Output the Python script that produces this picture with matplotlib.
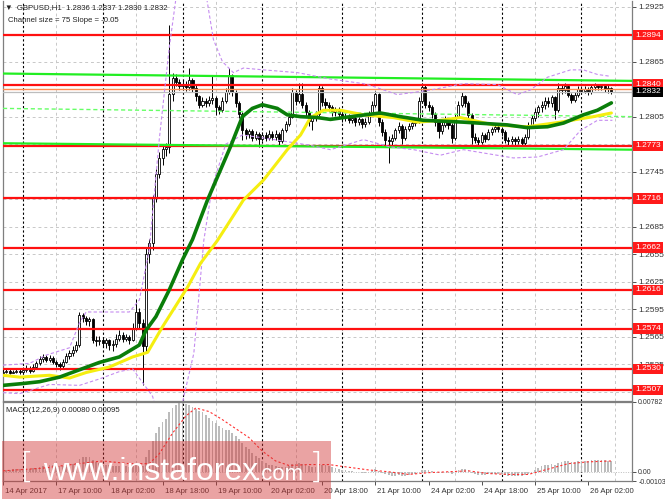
import matplotlib
matplotlib.use("Agg")
import matplotlib.pyplot as plt
from matplotlib.patches import Rectangle
from matplotlib.transforms import blended_transform_factory, ScaledTranslation

# GBPUSD H1, 14 Apr 18:00 .. 26 Apr 09:00 (bar index 0..183)
first_open = 1.2526
closes = [
    1.2527, 1.2528, 1.2526, 1.2527, 1.2528, 1.2527,
    # 17 Apr
    1.2529, 1.2531, 1.2528, 1.2532, 1.2536, 1.2541, 1.2543, 1.2540, 1.2542, 1.2538, 1.2535, 1.2533,
    1.2538, 1.2544, 1.2547, 1.2551, 1.2556, 1.2589, 1.2585, 1.2582, 1.2584, 1.2562, 1.2560, 1.2562,
    # 18 Apr
    1.2558, 1.2561, 1.2556, 1.2557, 1.2563, 1.2567, 1.2563, 1.2565, 1.2562, 1.2575, 1.2592, 1.2580,
    1.2555, 1.2655, 1.2667, 1.2716, 1.2743, 1.2760, 1.2770, 1.2772, 1.2830, 1.2847, 1.2843, 1.2838,
    # 19 Apr
    1.2841, 1.2837, 1.2845, 1.2836, 1.2827, 1.2818, 1.2822, 1.2820, 1.2823, 1.2825, 1.2815, 1.2812,
    1.2822, 1.2832, 1.2850, 1.2832, 1.2820, 1.2808, 1.2790, 1.2786, 1.2789, 1.2782, 1.2786, 1.2781,
    # 20 Apr
    1.2785, 1.2782, 1.2786, 1.2783, 1.2786, 1.2778, 1.2790, 1.2797, 1.2805, 1.2832, 1.2822, 1.2830,
    1.2818, 1.2810, 1.2800, 1.2803, 1.2808, 1.2836, 1.2821, 1.2818, 1.2815, 1.2810, 1.2813, 1.2808,
    # 21 Apr
    1.2803, 1.2806, 1.2801, 1.2804, 1.2799, 1.2802, 1.2797, 1.2799, 1.2808, 1.2818, 1.2830, 1.2799,
    1.2788, 1.2780, 1.2778, 1.2782, 1.2790, 1.2795, 1.2782, 1.2792, 1.2795, 1.2798, 1.2800, 1.2822,
    # 24 Apr
    1.2837, 1.2818, 1.2815, 1.2808, 1.2799, 1.2789, 1.2796, 1.2802, 1.2796, 1.2782, 1.2805, 1.2818,
    1.2827, 1.2820, 1.2807, 1.2783, 1.2780, 1.2777, 1.2785, 1.2781, 1.2788, 1.2791, 1.2794, 1.2792,
    # 25 Apr
    1.2788, 1.2780, 1.2778, 1.2781, 1.2778, 1.2781, 1.2776, 1.2783, 1.2796, 1.2803, 1.2810, 1.2815,
    1.2818, 1.2822, 1.2820, 1.2826, 1.2812, 1.2836, 1.2834, 1.2838, 1.2829, 1.2823, 1.2829, 1.2835,
    # 26 Apr
    1.2833, 1.2835, 1.2832, 1.2837, 1.2839, 1.2837, 1.2838, 1.2835, 1.2836, 1.2832,
]
highs = [
    1.2530, 1.2531, 1.2530, 1.2529, 1.2531, 1.2530,
    1.2532, 1.2534, 1.2533, 1.2535, 1.2539, 1.2544, 1.2546, 1.2545, 1.2545, 1.2544, 1.2540, 1.2538,
    1.2541, 1.2547, 1.2551, 1.2555, 1.2560, 1.2592, 1.2591, 1.2588, 1.2587, 1.2586, 1.2566, 1.2566,
    1.2565, 1.2564, 1.2563, 1.2561, 1.2568, 1.2572, 1.2570, 1.2568, 1.2567, 1.2580, 1.2606, 1.2596,
    1.2584, 1.2662, 1.2672, 1.2720, 1.2748, 1.2766, 1.2774, 1.2776, 1.2905, 1.2853, 1.2851, 1.2846,
    1.2845, 1.2844, 1.2858, 1.2847, 1.2839, 1.2829, 1.2826, 1.2825, 1.2827, 1.2850, 1.2827, 1.2818,
    1.2826, 1.2836, 1.2858, 1.2852, 1.2834, 1.2822, 1.2810, 1.2793, 1.2792, 1.2791, 1.2789, 1.2788,
    1.2788, 1.2788, 1.2790, 1.2789, 1.2790, 1.2788, 1.2793, 1.2800, 1.2809, 1.2836, 1.2834, 1.2842,
    1.2842, 1.2821, 1.2812, 1.2807, 1.2811, 1.2840, 1.2838, 1.2825, 1.2821, 1.2818, 1.2816, 1.2815,
    1.2810, 1.2809, 1.2808, 1.2807, 1.2806, 1.2805, 1.2804, 1.2803, 1.2811, 1.2822, 1.2833, 1.2831,
    1.2802, 1.2791, 1.2784, 1.2786, 1.2793, 1.2799, 1.2797, 1.2795, 1.2798, 1.2801, 1.2804, 1.2826,
    1.2842, 1.2839, 1.2822, 1.2818, 1.2810, 1.2801, 1.2799, 1.2806, 1.2804, 1.2798, 1.2808, 1.2822,
    1.2832, 1.2829, 1.2822, 1.2809, 1.2787, 1.2783, 1.2788, 1.2787, 1.2791, 1.2794, 1.2797, 1.2797,
    1.2794, 1.2790, 1.2783, 1.2784, 1.2783, 1.2784, 1.2783, 1.2786, 1.2799, 1.2807, 1.2814, 1.2818,
    1.2822, 1.2826, 1.2826, 1.2829, 1.2828, 1.2842, 1.2840, 1.2842, 1.2840, 1.2831, 1.2832, 1.2838,
    1.2838, 1.2838, 1.2837, 1.2840, 1.2842, 1.2841, 1.2841, 1.2840, 1.2839, 1.2837,
]
lows = [
    1.2524, 1.2525, 1.2524, 1.2525, 1.2525, 1.2524,
    1.2525, 1.2527, 1.2526, 1.2527, 1.2531, 1.2534, 1.2538, 1.2537, 1.2538, 1.2535, 1.2532, 1.2529,
    1.2531, 1.2536, 1.2541, 1.2544, 1.2548, 1.2554, 1.2581, 1.2578, 1.2577, 1.2558, 1.2555, 1.2556,
    1.2554, 1.2553, 1.2551, 1.2550, 1.2554, 1.2560, 1.2559, 1.2560, 1.2557, 1.2560, 1.2572, 1.2575,
    1.2512, 1.2548, 1.2645, 1.2660, 1.2712, 1.2738, 1.2752, 1.2762, 1.2765, 1.2822, 1.2838, 1.2834,
    1.2834, 1.2833, 1.2834, 1.2832, 1.2822, 1.2814, 1.2815, 1.2816, 1.2817, 1.2819, 1.2807, 1.2808,
    1.2810, 1.2820, 1.2830, 1.2828, 1.2816, 1.2803, 1.2780, 1.2781, 1.2782, 1.2778, 1.2779, 1.2772,
    1.2778, 1.2778, 1.2779, 1.2779, 1.2780, 1.2774, 1.2776, 1.2788, 1.2795, 1.2803, 1.2818, 1.2820,
    1.2814, 1.2806, 1.2795, 1.2790, 1.2800, 1.2806, 1.2817, 1.2813, 1.2811, 1.2806, 1.2806, 1.2804,
    1.2799, 1.2800, 1.2798, 1.2798, 1.2795, 1.2796, 1.2793, 1.2794, 1.2797, 1.2806, 1.2815, 1.2795,
    1.2784, 1.2772, 1.2754, 1.2774, 1.2779, 1.2787, 1.2775, 1.2780, 1.2789, 1.2792, 1.2795, 1.2798,
    1.2820, 1.2814, 1.2811, 1.2804, 1.2795, 1.2782, 1.2786, 1.2794, 1.2792, 1.2776, 1.2780, 1.2803,
    1.2815, 1.2816, 1.2803, 1.2775, 1.2776, 1.2773, 1.2775, 1.2777, 1.2779, 1.2785, 1.2788, 1.2788,
    1.2784, 1.2776, 1.2774, 1.2775, 1.2774, 1.2775, 1.2773, 1.2774, 1.2781, 1.2793, 1.2800, 1.2805,
    1.2810, 1.2813, 1.2815, 1.2816, 1.2802, 1.2810, 1.2830, 1.2831, 1.2826, 1.2820, 1.2821, 1.2826,
    1.2830, 1.2831, 1.2829, 1.2830, 1.2834, 1.2834, 1.2834, 1.2832, 1.2831, 1.2830,
]
opens = [first_open] + closes[:-1]

# moving averages (read at sample bars)
ma_green_idx = [0, 6, 11, 17, 23, 29, 35, 41, 43, 46, 50, 54, 57, 61.5, 68.4, 72, 75, 78, 82.5, 85.5,
                89.5, 94.6, 98.5, 102.4, 113.5, 119.5, 126.5, 138.5, 151.7, 157.7, 163.8, 168.6, 174.6, 178.8, 183]
ma_green_val = [1.2512, 1.2514, 1.2516, 1.2521, 1.2529, 1.2537, 1.2543, 1.2556, 1.2572, 1.2587, 1.2616,
                1.2649, 1.2671, 1.2714, 1.2772, 1.2805, 1.2814, 1.2818, 1.2814, 1.2807, 1.2805, 1.2804,
                1.2802, 1.2804, 1.2809, 1.2805, 1.2801, 1.2799, 1.2796, 1.2793, 1.2794, 1.2798, 1.2807,
                1.2812, 1.2820]
ma_yellow_idx = [0, 5, 14, 20, 25, 32, 39, 43.5, 48, 55.5, 59.4, 64.5, 72.3, 78.4, 85.5, 89.5, 92.5,
                 96.4, 101.5, 108.4, 117.4, 124.7, 131.6, 137.6, 147.5, 157.7, 167.7, 177.6, 183]
ma_yellow_val = [1.2523, 1.2521, 1.2523, 1.2520, 1.2526, 1.2532, 1.2543, 1.2548, 1.2576, 1.2619, 1.2645,
                 1.2670, 1.2714, 1.2736, 1.2769, 1.2785, 1.2804, 1.2812, 1.2812, 1.2807, 1.2804, 1.2799,
                 1.2801, 1.2804, 1.2796, 1.2794, 1.2799, 1.2805, 1.2809]

# Bollinger envelope
bb_up_idx = [0, 8, 13, 20, 23, 25, 38, 41, 44, 47, 50, 53, 58, 61, 63.3, 66, 69.3, 72.3, 78.4, 88.6,
             98.5, 108.4, 111.4, 118.6, 128.6, 138.5, 148.7, 154.7, 158.6, 163.8, 170.7, 174.6, 178.8, 182.7]
bb_up_val = [1.2534, 1.2536, 1.2545, 1.2553, 1.2580, 1.2592, 1.2592, 1.2605, 1.2660, 1.2780, 1.2880,
             1.2960, 1.3000, 1.2940, 1.2889, 1.2865, 1.2853, 1.2858, 1.2856, 1.2853, 1.2846, 1.2841,
             1.2838, 1.2829, 1.2834, 1.2841, 1.2840, 1.2829, 1.2834, 1.2848, 1.2856, 1.2856, 1.2851, 1.2849]
bb_lo_idx = [0, 5, 14, 23, 29, 35, 39, 42, 45, 48, 51, 54.4, 57.4, 60.4, 63, 67, 72, 78, 85, 92, 98.5,
             108.4, 116.5, 123.5, 131.6, 138.5, 153.5, 160.8, 168.6, 173.7, 178.8, 183.3]
bb_lo_val = [1.2504, 1.2503, 1.2513, 1.2512, 1.2519, 1.2527, 1.2530, 1.2515, 1.2500, 1.2460, 1.2440,
             1.2500, 1.2547, 1.2670, 1.2730, 1.2775, 1.2785, 1.2782, 1.2778, 1.2774, 1.2769, 1.2780,
             1.2772, 1.2769, 1.2763, 1.2769, 1.2760, 1.2761, 1.2769, 1.2790, 1.2801, 1.2801]

# regression channel (start, end)
chan_up = [1.2852, 1.2844]
chan_mid = [1.2814, 1.2805]
chan_lo = [1.2776, 1.2769]

levels = [1.2894, 1.2840, 1.2773, 1.2716, 1.2662, 1.2616, 1.2574, 1.2530, 1.2507]
orange_level = 1.2835
bid = 1.2832

price_ticks = [1.2925, 1.2895, 1.2865, 1.2835, 1.2805, 1.2775, 1.2745, 1.2715, 1.2685, 1.2655,
               1.2625, 1.2595, 1.2565, 1.2535, 1.2505]
hidden_ticks = [1.2895, 1.2835, 1.2775, 1.2715, 1.2505]   # covered by level boxes
day_starts = [6, 30, 54, 78, 102, 126, 150, 174]
grid_x = [16, 40, 64, 88, 112, 136, 160, 184]
time_idx = [0, 16, 32, 48, 64, 80, 96, 112, 128, 144, 160, 176]
time_labels = ["14 Apr 2017", "17 Apr 10:00", "18 Apr 02:00", "18 Apr 18:00", "19 Apr 10:00",
               "20 Apr 02:00", "20 Apr 18:00", "21 Apr 10:00", "24 Apr 02:00", "24 Apr 18:00",
               "25 Apr 10:00", "26 Apr 02:00"]

# MACD main (histogram) per bar
macd = [
    0.0002, 0.0002, 0.0002, 0.0003, 0.0003, 0.0003,
    0.0003, 0.0003, 0.0003, 0.0004, 0.0004, 0.0005, 0.0006, 0.0006, 0.0007, 0.0007,
    0.0006, 0.0006, 0.0006, 0.0007, 0.0008, 0.0009, 0.0010,
    0.0014, 0.0016, 0.0016, 0.0016, 0.0013, 0.0011, 0.0010,
    0.0008, 0.0008, 0.0007, 0.0006, 0.0006, 0.0006, 0.0006, 0.0006, 0.0005,
    0.0006, 0.0009, 0.0009, 0.0006,
    0.0016, 0.0024, 0.0034, 0.0043, 0.0050, 0.0055, 0.0059,
    0.0066, 0.0071, 0.0074, 0.0076, 0.0076, 0.0075, 0.0074,
    0.0072, 0.0070, 0.0068, 0.0066, 0.0063, 0.0060, 0.0057,
    0.0054, 0.0051, 0.0049, 0.0047, 0.0046, 0.0043, 0.0040,
    0.0036, 0.0032, 0.0028, 0.0025, 0.0021, 0.0018, 0.0015,
    0.0012, 0.0010, 0.0008, 0.0007, 0.0006, 0.0005, 0.0005, 0.0005, 0.0006,
    0.0009, 0.0009, 0.0010, 0.0009, 0.0008, 0.0006, 0.0005, 0.0005,
    0.0008, 0.0008, 0.0007, 0.0006, 0.0005, 0.0004, 0.0003,
    0.0002, 0.0002, 0.0001, 0.0001, 0.0000, -0.0000, -0.0001, -0.0001,
    0.0000, 0.0001, 0.0003, 0.0001, -0.0001, -0.0003, -0.0004,
    -0.0005, -0.0005, -0.0004, -0.0005, -0.0005, -0.0004, -0.0003, -0.0002, 0.0000,
    0.0002, 0.0002, 0.0002, 0.0001, 0.0000, -0.0001, -0.0001, -0.0000,
    -0.0001, -0.0002, -0.0000, 0.0002, 0.0003, 0.0003, 0.0002, -0.0001,
    -0.0003, -0.0004, -0.0004, -0.0004, -0.0003, -0.0003, -0.0002, -0.0002,
    -0.0003, -0.0004, -0.0005, -0.0005, -0.0005, -0.0005, -0.0005, -0.0004,
    -0.0002, 0.0000, 0.0002, 0.0004, 0.0006, 0.0007, 0.0008, 0.0009,
    0.0008, 0.0010, 0.0011, 0.0012, 0.0012, 0.0011, 0.0011, 0.0012,
    0.0012, 0.0012, 0.0012, 0.0013, 0.0013, 0.0013, 0.0013, 0.0013, 0.0012, 0.0012,
]
signal_idx = [0, 12, 25, 30, 38, 44, 47, 51, 55, 58, 62, 66, 70, 74, 78, 82, 86, 92, 98, 104, 110,
              116, 122, 128, 134, 140, 146, 152, 158, 164, 170, 176, 183]
signal_val = [0.0001, 0.0004, 0.0010, 0.0012, 0.0009, 0.0009, 0.0020, 0.0043, 0.0062, 0.0071, 0.0067,
              0.0058, 0.0048, 0.0038, 0.0023, 0.0012, 0.0007, 0.0008, 0.0008, 0.0005, 0.0002, 0.0000,
              -0.0003, -0.0001, 0.0000, 0.0001, -0.0002, -0.0003, -0.0003, 0.0003, 0.0009, 0.0011, 0.0012]

W, H = 665, 499
fig = plt.figure(figsize=(W / 100, H / 100), dpi=100)
ax = fig.add_axes([3 / W, 1 - 400.5 / H, 629 / W, 399.5 / H])
ax2 = fig.add_axes([3 / W, 1 - 481 / H, 629 / W, 79.5 / H])
font = "Liberation Sans"
fs = 6.0      # price scale labels
fs_t = 5.6    # time labels / captions

xmin, xmax = 0.0, 189.2
for a in (ax, ax2):
    a.set_xlim(xmin, xmax)
    for s in a.spines.values():
        s.set_color("#7f7f7f")
        s.set_linewidth(0.9)
    a.yaxis.tick_right()
    a.tick_params(axis="y", length=3, width=0.6, labelsize=fs, pad=1.5, colors="#333333")
    a.set_facecolor("white")
    for d in day_starts:
        a.axvline(d, color="black", lw=0.8, ls=(0, (2, 2)), zorder=1)
    for g in grid_x:
        a.axvline(g, color="#c8c8c8", lw=0.7, ls=(0, (3, 3)), zorder=0.5)
ax.spines["top"].set_visible(False)

# price panel
ax.set_ylim(1.24955, 1.29311)
ax.set_yticks(price_ticks)
ax.set_yticklabels(["" if p in hidden_ticks else f"{p:.4f}" for p in price_ticks], family=font)
for p in price_ticks:
    ax.axhline(p, color="#c8c8c8", lw=0.7, ls=(0, (3, 3)), zorder=0.5)
ax.set_xticks([])

n = len(closes)
idx = list(range(n))
body_lo = [min(o, c) for o, c in zip(opens, closes)]
body_h = [max(abs(c - o), 0.00003) for o, c in zip(opens, closes)]
cols = ["white" if c >= o else "black" for o, c in zip(opens, closes)]
ax.vlines(idx, lows, highs, color="black", lw=0.7, zorder=3)
ax.bar(idx, body_h, bottom=body_lo, width=0.62, color=cols, edgecolor="black", lw=0.6, zorder=3.2)

for lv in levels:
    ax.axhline(lv, color="#ff1010", lw=1.6, zorder=4)
ax.axhline(orange_level, color="#ff8c50", lw=1.0, zorder=4)
ax.axhline(bid, color="#bdbdbd", lw=0.9, zorder=3.9)

ax.plot([xmin, xmax], chan_up, color="#22ee22", lw=1.6, zorder=4.2)
ax.plot([xmin, xmax], chan_lo, color="#22ee22", lw=1.6, zorder=4.2)
ax.plot([xmin, xmax], chan_mid, color="#66ff66", lw=1.0, ls=(0, (3, 2)), zorder=4.2)

ax.plot(bb_up_idx, bb_up_val, color="#c58cf0", lw=0.8, ls=(0, (3, 2)), zorder=4.3)
ax.plot(bb_lo_idx, bb_lo_val, color="#c58cf0", lw=0.8, ls=(0, (3, 2)), zorder=4.3)
ax.plot(ma_yellow_idx, ma_yellow_val, color="#f5ee10", lw=2.2, zorder=4.5, solid_capstyle="round")
ax.plot(ma_green_idx, ma_green_val, color="#0a7d0a", lw=2.6, zorder=4.6, solid_capstyle="round")

trans = blended_transform_factory(ax.transAxes, ax.transData)
for lv in levels:
    ax.text(1.005, lv, f"{lv:.4f}", transform=trans, ha="left", va="center", fontsize=fs,
            family=font, color="white", zorder=10, clip_on=False,
            bbox=dict(boxstyle="square,pad=0.22", fc="#ff1a1a", ec="none"))
ax.text(1.005, bid, f"{bid:.4f}", transform=trans, ha="left", va="center", fontsize=fs,
        family=font, color="white", zorder=10, clip_on=False,
        bbox=dict(boxstyle="square,pad=0.22", fc="black", ec="none"))

# MACD panel
ax2.set_ylim(-0.00103, 0.00782)
ax2.set_yticks([0.00782, 0.0, -0.00103])
ax2.set_yticklabels(["0.00782", "0.00", "-0.00103"], family=font, fontsize=5.0)
ax2.axhline(0, color="#bdbdbd", lw=0.7, ls=(0, (1, 1.5)), zorder=1)
ax2.bar(idx, macd, width=0.55, color="#bcbcbc", zorder=2)
ax2.plot(signal_idx, signal_val, color="#ff3030", lw=0.8, ls=(0, (2, 2)), zorder=3)
ax2.set_xticks(time_idx)
ax2.set_xticklabels(time_labels, ha="left", family=font, fontsize=fs_t)
ax2.tick_params(axis="x", length=3, width=0.6, pad=2, colors="#333333")
shift = ScaledTranslation(2 / 100, 0, fig.dpi_scale_trans)
for lab in ax2.get_xticklabels():
    lab.set_transform(lab.get_transform() + shift)

ax2.text(0.005, 0.93, "MACD(12,26,9) 0.00080 0.00095", transform=ax2.transAxes, fontsize=fs_t,
         family=font, va="top", ha="left", color="#222222")

fig.text(5 / W, 1 - 8 / H, "\u25bc  GBPUSD,H1  1.2836 1.2837 1.2830 1.2832", fontsize=fs_t,
         family=[font, "DejaVu Sans"], va="center", ha="left", color="#222222")
fig.text(8 / W, 1 - 20 / H, "Channel size = 75 Slope = -0.05", fontsize=fs_t,
         family=font, va="center", ha="left", color="#222222")

# watermark
fig.patches.append(Rectangle((2 / W, 0), 329 / W, 58 / H, transform=fig.transFigure,
                             fc=(0.82, 0.2, 0.2), alpha=0.45, ec="none", zorder=20))
fig.text(20 / W, 1 - 468 / H, "[", fontsize=26, color="white", family="DejaVu Sans", weight="light",
         va="center", ha="left", zorder=21)
fig.text(43 / W, 1 - 480 / H, "www.instaforex", fontsize=23, color="white", family=font,
         va="baseline", ha="left", zorder=21)
fig.text(255 / W, 1 - 480 / H, ".com", fontsize=16, color="white", family=font,
         va="baseline", ha="left", zorder=21)
fig.text(309 / W, 1 - 468 / H, "]", fontsize=26, color="white", family="DejaVu Sans", weight="light",
         va="center", ha="left", zorder=21)

fig.savefig("out.png", dpi=100)
